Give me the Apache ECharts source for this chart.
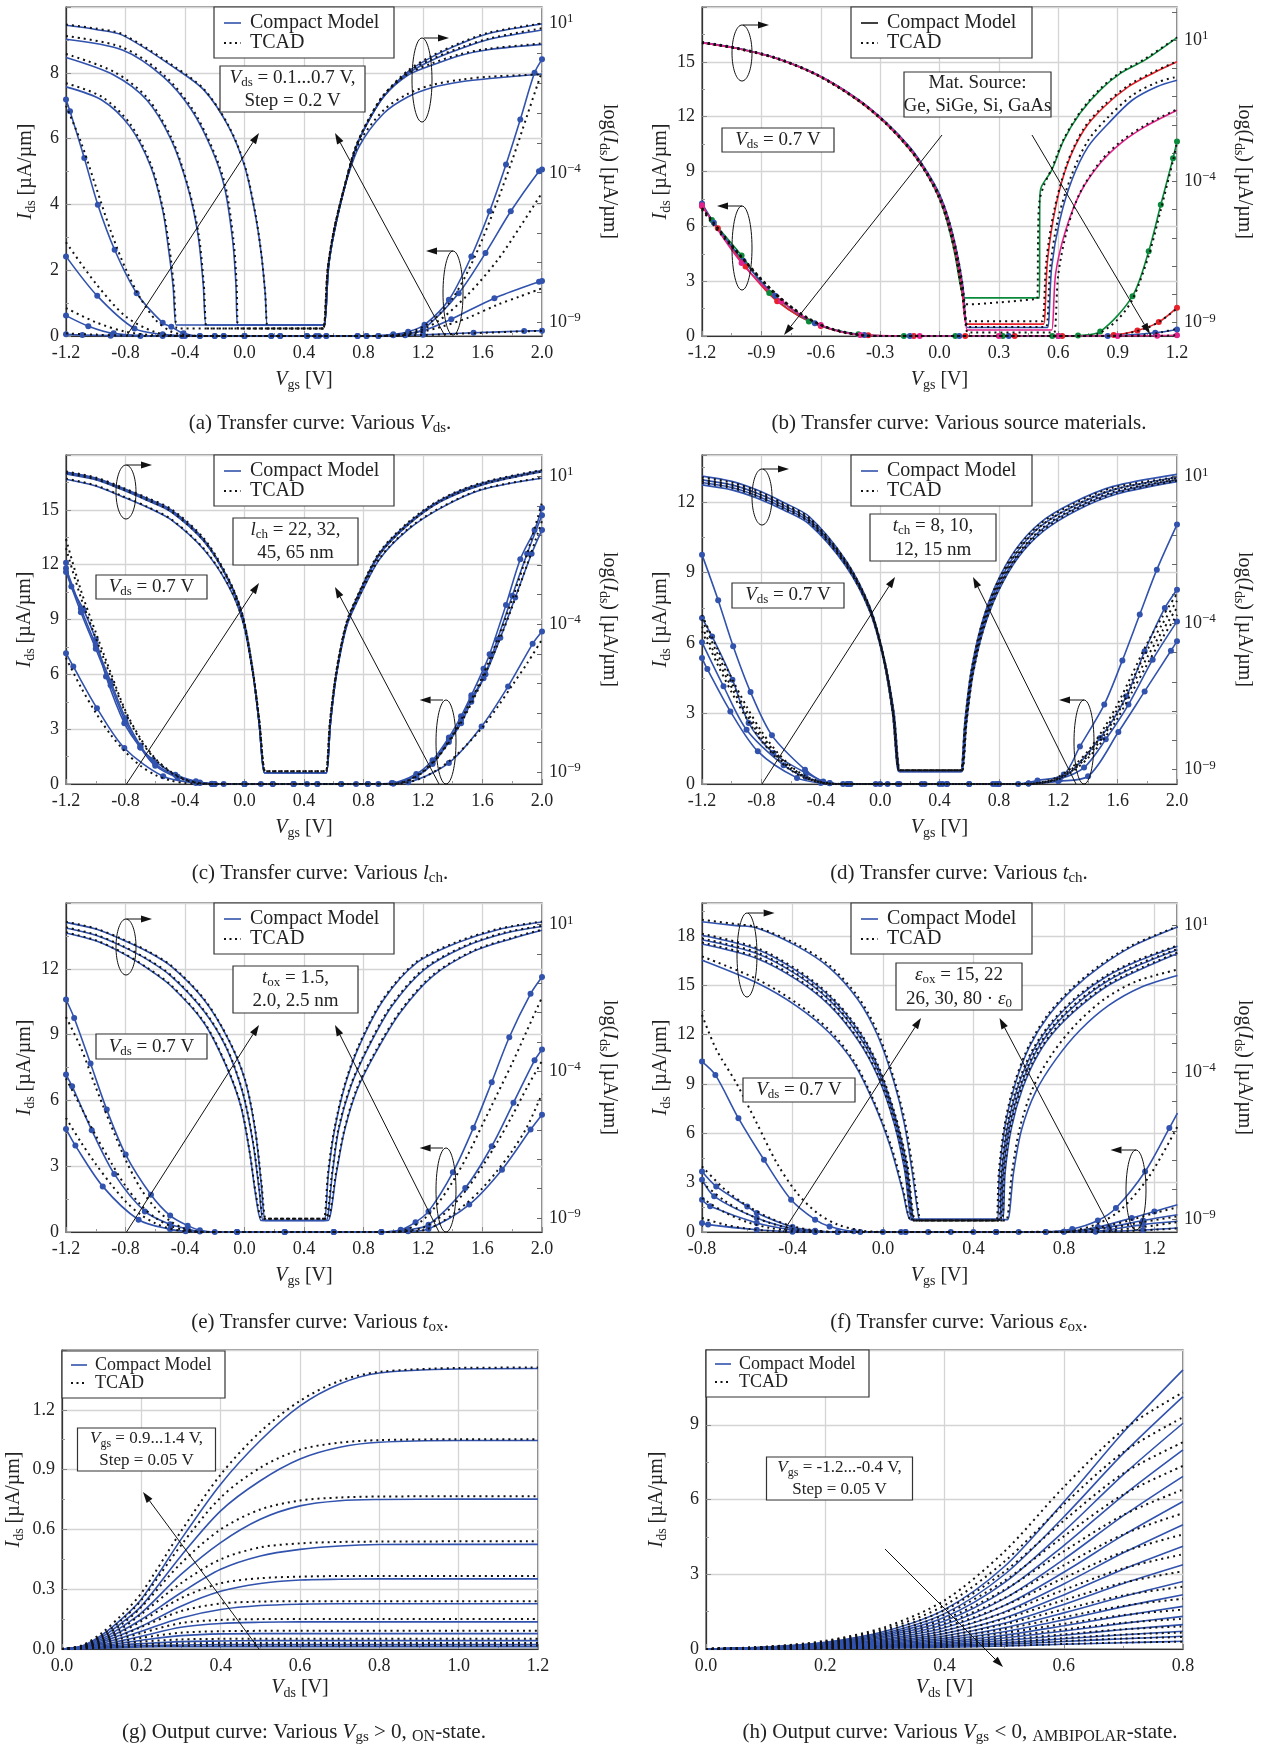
<!DOCTYPE html>
<html><head><meta charset="utf-8">
<script src="https://cdn.jsdelivr.net/npm/echarts@6/dist/echarts.min.js"></script>
<style>html,body{margin:0;padding:0;background:#fff;}#c{width:1270px;height:1746px;}</style>
</head><body><div id="c"></div>
<script>
// ================= DATA =================
// Panel (a): various Vds — log-axis curves [Vgs, log10(Ids)]
const aLogCM = [
 [[-1.2,-1.12],[-0.96,-1.56],[-0.77,-2.45],[-0.63,-3.79],[-0.55,-5.24],[-0.51,-6.57],[-0.48,-7.80],[-0.46,-9.08],[-0.44,-9.08],[0.52,-9.08],[0.537,-9.08],[0.565,-7.13],[0.606,-5.90],[0.674,-4.46],[0.77,-3.12],[0.935,-2.01],[1.10,-1.45],[1.264,-1.14],[1.456,-0.95],[1.648,-0.84],[2.0,-0.69]],
 [[-1.2,-0.14],[-0.876,-0.73],[-0.657,-1.56],[-0.492,-2.90],[-0.382,-4.46],[-0.314,-6.02],[-0.278,-7.69],[-0.259,-9.08],[-0.24,-9.08],[0.52,-9.08],[0.537,-9.08],[0.565,-7.13],[0.606,-5.90],[0.674,-4.46],[0.743,-3.23],[0.825,-2.34],[0.935,-1.45],[1.10,-0.73],[1.264,-0.39],[1.456,-0.06],[1.648,0.13],[2.0,0.30]],
 [[-1.2,0.47],[-0.821,0.11],[-0.547,-0.78],[-0.355,-1.9],[-0.218,-3.23],[-0.135,-4.46],[-0.080,-6.24],[-0.058,-7.69],[-0.047,-9.08],[-0.03,-9.08],[0.52,-9.08],[0.537,-9.08],[0.565,-7.13],[0.606,-5.90],[0.674,-4.46],[0.743,-3.23],[0.825,-2.34],[0.935,-1.45],[1.10,-0.67],[1.264,-0.22],[1.456,0.16],[1.648,0.47],[2.0,0.78]],
 [[-1.2,0.94],[-1.0,0.80],[-0.821,0.61],[-0.465,-0.50],[-0.272,-1.23],[-0.107,-2.45],[0.002,-3.79],[0.071,-5.35],[0.112,-6.68],[0.139,-8.02],[0.153,-9.08],[0.17,-9.08],[0.52,-9.08],[0.537,-9.08],[0.565,-7.13],[0.606,-5.90],[0.674,-4.46],[0.743,-3.23],[0.825,-2.34],[0.935,-1.45],[1.10,-0.61],[1.264,-0.11],[1.456,0.33],[1.648,0.67],[2.0,0.98]]
];
const aLogTC = [
 [[-1.2,-1.0],[-0.96,-1.45],[-0.77,-2.35],[-0.63,-3.70],[-0.55,-5.15],[-0.505,-6.5],[-0.475,-7.8],[-0.455,-9.2],[-0.435,-9.2],[0.51,-9.2],[0.53,-9.2],[0.56,-7.2],[0.60,-5.95],[0.67,-4.5],[0.77,-3.0],[0.935,-1.9],[1.10,-1.35],[1.264,-1.05],[1.456,-0.88],[1.648,-0.78],[2.0,-0.70]],
 [[-1.2,-0.02],[-0.876,-0.62],[-0.657,-1.47],[-0.492,-2.82],[-0.382,-4.40],[-0.31,-6.0],[-0.274,-7.7],[-0.255,-9.2],[-0.235,-9.2],[0.51,-9.2],[0.53,-9.2],[0.56,-7.2],[0.60,-5.95],[0.67,-4.5],[0.743,-3.2],[0.825,-2.3],[0.935,-1.4],[1.10,-0.68],[1.264,-0.33],[1.456,-0.02],[1.648,0.16],[2.0,0.33]],
 [[-1.2,0.58],[-0.821,0.2],[-0.547,-0.7],[-0.355,-1.82],[-0.218,-3.15],[-0.13,-4.4],[-0.075,-6.2],[-0.053,-7.7],[-0.043,-9.2],[-0.025,-9.2],[0.51,-9.2],[0.53,-9.2],[0.56,-7.2],[0.60,-5.95],[0.67,-4.5],[0.743,-3.2],[0.825,-2.3],[0.935,-1.4],[1.10,-0.62],[1.264,-0.18],[1.456,0.2],[1.648,0.5],[2.0,0.84]],
 [[-1.2,0.96],[-1.0,0.83],[-0.821,0.64],[-0.465,-0.46],[-0.272,-1.2],[-0.107,-2.42],[0.002,-3.75],[0.071,-5.3],[0.112,-6.65],[0.139,-8.0],[0.156,-9.2],[0.175,-9.2],[0.51,-9.2],[0.53,-9.2],[0.56,-7.2],[0.60,-5.95],[0.67,-4.5],[0.743,-3.2],[0.825,-2.3],[0.935,-1.4],[1.10,-0.57],[1.264,-0.07],[1.456,0.36],[1.648,0.7],[2.0,1.0]]
];
// Panel (a) linear-axis curves [Vgs, Ids µA/µm]
const aLinCM = [
 [[-1.2,0.05],[-1.09,0.03],[-0.9,0.01],[-0.7,0],[-0.42,0],[-0.2,0],[0.0,0],[0.24,0],[0.48,0],[0.76,0],[0.9,0],[1.08,0.02],[1.2,0.04],[1.54,0.10],[1.88,0.15],[2.0,0.16]],
 [[-1.2,0.62],[-1.05,0.3],[-0.88,0.08],[-0.55,0],[-0.4,0],[-0.14,0],[0.18,0],[0.42,0],[0.55,0],[0.82,0],[1.0,0.02],[1.2,0.16],[1.39,0.51],[1.68,1.15],[1.98,1.65],[2.0,1.67]],
 [[-1.2,2.42],[-0.99,1.22],[-0.74,0.23],[-0.55,0.05],[-0.3,0],[-0.2,0],[0.0,0],[0.24,0],[0.5,0],[0.76,0],[0.9,0],[1.1,0.08],[1.2,0.2],[1.44,1.3],[1.62,2.52],[1.79,3.79],[1.98,5.01],[2.0,5.06]],
 [[-1.2,7.19],[-1.173,6.83],[-1.077,5.41],[-0.986,3.99],[-0.873,2.62],[-0.725,1.30],[-0.55,0.4],[-0.492,0.28],[-0.41,0.08],[-0.3,0.0],[-0.14,0],[0.0,0],[0.18,0],[0.42,0],[0.55,0],[0.82,0],[1.0,0.05],[1.10,0.13],[1.21,0.34],[1.374,1.10],[1.525,2.42],[1.648,3.79],[1.758,5.21],[1.854,6.58],[1.95,8.0],[2.0,8.41]]
];
const aLinTC = [
 [[-1.2,0.08],[-1.0,0.04],[-0.8,0.01],[-0.6,0],[0.9,0],[1.2,0.03],[1.5,0.08],[1.8,0.13],[2.0,0.16]],
 [[-1.2,0.85],[-1.0,0.42],[-0.8,0.13],[-0.6,0.02],[-0.4,0],[0.9,0],[1.1,0.04],[1.3,0.25],[1.5,0.55],[1.7,0.95],[1.85,1.2],[2.0,1.45]],
 [[-1.2,2.85],[-1.0,1.6],[-0.8,0.6],[-0.6,0.12],[-0.4,0],[0.9,0],[1.1,0.05],[1.3,0.45],[1.5,1.25],[1.7,2.3],[1.85,3.3],[2.0,4.35]],
 [[-1.2,7.0],[-1.1,5.9],[-1.0,4.55],[-0.9,3.2],[-0.8,2.05],[-0.7,1.15],[-0.6,0.5],[-0.5,0.15],[-0.4,0.03],[-0.3,0],[0.9,0],[1.1,0.1],[1.2,0.28],[1.3,0.62],[1.4,1.15],[1.5,1.95],[1.6,2.95],[1.7,4.1],[1.8,5.35],[1.9,6.7],[2.0,8.05]]
];

// Panel (b): source materials Ge, SiGe, Si, GaAs (green, red, blue, magenta)
const bColors = ['#0a8a3a','#e8202a','#2f52b0','#e0228a'];
const bLogCM = [
 [[-1.2,0.91],[-1.026,0.71],[-0.822,0.35],[-0.618,-0.24],[-0.414,-1.12],[-0.271,-1.95],[-0.148,-2.89],[-0.066,-3.72],[-0.005,-4.54],[0.036,-5.37],[0.077,-6.55],[0.107,-7.73],[0.125,-8.12],[0.14,-8.12],[0.49,-8.12],[0.505,-8.12],[0.507,-4.6],[0.515,-4.19],[0.567,-3.6],[0.628,-2.54],[0.710,-1.59],[0.812,-0.77],[0.914,-0.18],[1.037,0.29],[1.2,1.09]],
 [[-1.2,0.91],[-1.026,0.71],[-0.822,0.35],[-0.618,-0.24],[-0.414,-1.12],[-0.271,-1.95],[-0.148,-2.88],[-0.066,-3.70],[-0.005,-4.50],[0.04,-5.35],[0.082,-6.55],[0.112,-7.75],[0.135,-9.05],[0.15,-9.05],[0.51,-9.05],[0.526,-9.05],[0.546,-6.78],[0.587,-4.9],[0.648,-3.36],[0.730,-2.18],[0.832,-1.36],[0.955,-0.65],[1.077,-0.18],[1.2,0.23]],
 [[-1.2,0.92],[-1.026,0.72],[-0.822,0.36],[-0.618,-0.22],[-0.414,-1.08],[-0.271,-1.9],[-0.148,-2.8],[-0.066,-3.62],[0.0,-4.45],[0.045,-5.3],[0.088,-6.5],[0.118,-7.7],[0.14,-9.17],[0.155,-9.17],[0.53,-9.17],[0.546,-9.17],[0.567,-7.02],[0.608,-5.37],[0.669,-3.95],[0.751,-2.77],[0.853,-1.95],[0.975,-1.12],[1.098,-0.65],[1.2,-0.42]],
 [[-1.2,0.91],[-1.026,0.71],[-0.822,0.35],[-0.618,-0.23],[-0.414,-1.1],[-0.271,-1.93],[-0.148,-2.85],[-0.066,-3.68],[-0.003,-4.5],[0.042,-5.35],[0.085,-6.55],[0.115,-7.75],[0.14,-9.26],[0.155,-9.26],[0.55,-9.26],[0.567,-9.26],[0.587,-7.25],[0.638,-5.72],[0.710,-4.42],[0.812,-3.36],[0.914,-2.66],[1.037,-2.07],[1.2,-1.48]]
];
const bLogTC = [
 [[-1.2,0.93],[-1.026,0.73],[-0.822,0.37],[-0.618,-0.22],[-0.414,-1.1],[-0.271,-1.93],[-0.148,-2.87],[-0.066,-3.7],[-0.005,-4.52],[0.036,-5.35],[0.077,-6.5],[0.107,-7.7],[0.13,-8.35],[0.145,-8.35],[0.3,-8.28],[0.48,-8.17],[0.495,-8.15],[0.498,-6.0],[0.505,-4.7],[0.53,-4.1],[0.567,-3.55],[0.628,-2.5],[0.71,-1.55],[0.812,-0.72],[0.914,-0.14],[1.037,0.33],[1.2,1.1]],
 [[-1.2,0.9],[-1.026,0.7],[-0.822,0.34],[-0.618,-0.25],[-0.414,-1.13],[-0.271,-1.96],[-0.148,-2.9],[-0.066,-3.73],[-0.005,-4.55],[0.04,-5.4],[0.082,-6.58],[0.112,-7.8],[0.136,-8.95],[0.15,-8.95],[0.505,-8.95],[0.52,-8.95],[0.54,-6.8],[0.58,-5.0],[0.648,-3.3],[0.73,-2.12],[0.832,-1.3],[0.955,-0.6],[1.077,-0.14],[1.2,0.25]],
 [[-1.2,0.92],[-1.026,0.72],[-0.822,0.36],[-0.618,-0.23],[-0.414,-1.1],[-0.271,-1.92],[-0.148,-2.83],[-0.066,-3.65],[0.0,-4.48],[0.045,-5.33],[0.088,-6.53],[0.118,-7.72],[0.142,-9.15],[0.157,-9.15],[0.525,-9.15],[0.54,-9.15],[0.56,-7.0],[0.6,-5.3],[0.669,-3.75],[0.751,-2.55],[0.853,-1.72],[0.975,-0.95],[1.098,-0.5],[1.2,-0.3]],
 [[-1.2,0.9],[-1.026,0.7],[-0.822,0.34],[-0.618,-0.24],[-0.414,-1.12],[-0.271,-1.95],[-0.148,-2.87],[-0.066,-3.7],[-0.003,-4.52],[0.042,-5.37],[0.085,-6.57],[0.115,-7.77],[0.142,-9.35],[0.157,-9.35],[0.565,-9.35],[0.58,-9.35],[0.6,-7.3],[0.645,-5.7],[0.71,-4.4],[0.812,-3.3],[0.914,-2.6],[1.037,-2.02],[1.2,-1.45]]
];
const bLinCM = [
 [[-1.2,7.2],[-1.15,6.35],[-1.0,4.4],[-0.86,2.35],[-0.66,0.8],[-0.41,0.1],[-0.18,0],[0.08,0],[0.32,0],[0.57,0],[0.7,0.03],[0.812,0.24],[0.975,2.18],[1.057,4.64],[1.118,7.18],[1.18,9.73],[1.2,10.64]],
 [[-1.2,7.1],[-1.12,5.9],[-0.98,3.8],[-0.82,1.9],[-0.6,0.55],[-0.36,0.04],[-0.13,0],[0.13,0],[0.38,0],[0.62,0],[0.88,0.05],[1.0,0.3],[1.108,0.76],[1.2,1.55]],
 [[-1.2,7.25],[-1.14,6.2],[-0.99,4.1],[-0.83,2.2],[-0.63,0.7],[-0.38,0.05],[-0.15,0],[0.1,0],[0.35,0],[0.6,0],[0.85,0],[1.09,0.18],[1.2,0.36]],
 [[-1.2,7.15],[-1.0,4.0],[-0.8,1.9],[-0.6,0.6],[-0.4,0.06],[-0.1,0],[0.3,0],[0.6,0],[0.9,0],[1.1,0.02],[1.2,0.04]]
];
const bLinTC = [
 [[-1.2,6.9],[-1.1,5.5],[-1.0,4.3],[-0.9,3.1],[-0.8,2.05],[-0.7,1.2],[-0.6,0.6],[-0.5,0.22],[-0.4,0.05],[-0.3,0],[0.7,0],[0.8,0.12],[0.9,0.9],[0.975,2.0],[1.057,4.4],[1.118,6.9],[1.18,9.6],[1.2,10.6]],
 [[-1.2,6.95],[-1.0,4.3],[-0.8,2.0],[-0.6,0.6],[-0.4,0.05],[-0.3,0],[0.85,0],[0.95,0.15],[1.05,0.45],[1.12,0.85],[1.2,1.5]],
 [[-1.2,7.0],[-1.0,4.35],[-0.8,2.05],[-0.6,0.62],[-0.4,0.06],[-0.3,0],[0.95,0],[1.05,0.08],[1.12,0.2],[1.2,0.4]],
 [[-1.2,7.0],[-1.0,4.3],[-0.8,2.0],[-0.6,0.6],[-0.4,0.05],[-0.3,0],[1.1,0],[1.2,0.05]]
];

// Panel (c): various lch
const cLogCM = [
 [[-1.2,1.15],[-1.0,0.95],[-0.821,0.61],[-0.65,0.25],[-0.492,-0.13],[-0.272,-1.14],[-0.108,-2.49],[-0.012,-3.74],[0.057,-5.65],[0.098,-7.34],[0.134,-9.03],[0.15,-9.03],[0.535,-9.03],[0.551,-9.03],[0.578,-7.34],[0.619,-5.65],[0.688,-3.96],[0.770,-2.95],[0.908,-1.59],[1.10,-0.58],[1.319,0.21],[1.594,0.77],[2.0,1.20]],
 [[-1.2,1.12],[-1.0,0.92],[-0.821,0.58],[-0.65,0.21],[-0.492,-0.17],[-0.272,-1.17],[-0.108,-2.5],[-0.012,-3.75],[0.057,-5.65],[0.098,-7.34],[0.134,-9.03],[0.15,-9.03],[0.535,-9.03],[0.551,-9.03],[0.578,-7.34],[0.619,-5.65],[0.688,-3.98],[0.770,-2.97],[0.908,-1.62],[1.10,-0.61],[1.319,0.18],[1.594,0.74],[2.0,1.18]],
 [[-1.2,1.09],[-1.0,0.89],[-0.821,0.55],[-0.65,0.18],[-0.492,-0.2],[-0.272,-1.2],[-0.108,-2.52],[-0.012,-3.76],[0.057,-5.66],[0.098,-7.34],[0.134,-9.03],[0.15,-9.03],[0.535,-9.03],[0.551,-9.03],[0.578,-7.34],[0.619,-5.66],[0.688,-4.0],[0.770,-3.0],[0.908,-1.65],[1.10,-0.64],[1.319,0.15],[1.594,0.71],[2.0,1.16]],
 [[-1.2,0.91],[-1.0,0.68],[-0.821,0.32],[-0.65,-0.05],[-0.492,-0.47],[-0.272,-1.48],[-0.108,-2.7],[-0.012,-3.9],[0.057,-5.7],[0.098,-7.34],[0.134,-9.03],[0.15,-9.03],[0.535,-9.03],[0.551,-9.03],[0.578,-7.34],[0.619,-5.7],[0.688,-4.05],[0.770,-3.1],[0.908,-1.8],[1.10,-0.80],[1.319,-0.07],[1.594,0.55],[2.0,0.94]]
];
const cLogTC = [
 [[-1.2,1.17],[-1.0,0.97],[-0.821,0.63],[-0.65,0.27],[-0.492,-0.1],[-0.272,-1.1],[-0.108,-2.45],[-0.012,-3.7],[0.057,-5.6],[0.1,-7.3],[0.138,-8.98],[0.155,-8.98],[0.532,-8.98],[0.548,-8.98],[0.575,-7.3],[0.617,-5.6],[0.686,-3.93],[0.770,-2.92],[0.908,-1.56],[1.10,-0.55],[1.319,0.23],[1.594,0.79],[2.0,1.22]],
 [[-1.2,1.11],[-1.0,0.91],[-0.821,0.57],[-0.65,0.2],[-0.492,-0.18],[-0.272,-1.18],[-0.108,-2.5],[-0.012,-3.74],[0.057,-5.63],[0.1,-7.3],[0.138,-8.98],[0.155,-8.98],[0.532,-8.98],[0.548,-8.98],[0.575,-7.3],[0.617,-5.63],[0.686,-3.97],[0.770,-2.97],[0.908,-1.63],[1.10,-0.62],[1.319,0.17],[1.594,0.73],[2.0,1.17]],
 [[-1.2,0.93],[-1.0,0.7],[-0.821,0.34],[-0.65,-0.03],[-0.492,-0.45],[-0.272,-1.45],[-0.108,-2.67],[-0.012,-3.87],[0.057,-5.68],[0.1,-7.3],[0.138,-8.98],[0.155,-8.98],[0.532,-8.98],[0.548,-8.98],[0.575,-7.3],[0.617,-5.68],[0.686,-4.02],[0.770,-3.07],[0.908,-1.77],[1.10,-0.77],[1.319,-0.05],[1.594,0.57],[2.0,0.96]]
];
const cLinCM = [
 [[-1.2,12.1],[-1.164,10.8],[-1.082,9.53],[-1.0,7.9],[-0.931,5.88],[-0.808,3.33],[-0.7,2.0],[-0.616,1.33],[-0.465,0.51],[-0.327,0.15],[-0.22,0.02],[-0.14,0],[0.0,0],[0.19,0],[0.33,0],[0.49,0],[0.65,0],[0.83,0],[0.99,0.05],[1.155,0.55],[1.264,1.3],[1.374,2.55],[1.456,3.7],[1.525,4.85],[1.607,6.3],[1.648,7.1],[1.758,9.8],[1.854,12.3],[1.95,13.9],[2.0,15.1]],
 [[-1.2,11.8],[-1.1,9.6],[-1.0,7.6],[-0.9,5.6],[-0.8,3.6],[-0.7,2.1],[-0.6,1.1],[-0.45,0.4],[-0.3,0.08],[-0.22,0],[0.0,0],[0.11,0],[0.33,0],[0.42,0],[0.75,0],[1.0,0.03],[1.155,0.45],[1.264,1.15],[1.374,2.42],[1.456,3.5],[1.525,4.7],[1.607,5.79],[1.7,7.9],[1.8,10.3],[1.9,12.6],[2.0,14.7]],
 [[-1.2,11.6],[-1.1,9.4],[-1.0,7.4],[-0.9,5.4],[-0.8,3.4],[-0.7,2.0],[-0.6,1.0],[-0.45,0.35],[-0.3,0.06],[-0.2,0],[0.0,0],[0.19,0],[0.49,0],[0.83,0],[1.0,0.03],[1.155,0.42],[1.264,1.1],[1.374,2.3],[1.456,3.33],[1.525,4.5],[1.62,6.0],[1.72,8.0],[1.82,10.2],[1.93,12.6],[2.0,13.9]],
 [[-1.2,7.16],[-1.151,6.43],[-0.992,4.15],[-0.808,1.97],[-0.547,0.42],[-0.327,0.05],[-0.2,0],[0.0,0],[0.33,0],[0.65,0],[0.9,0],[1.1,0.1],[1.374,1.15],[1.594,3.15],[1.772,5.34],[1.937,7.67],[2.0,8.34]]
];
const cLinTC = [
 [[-1.2,13.4],[-1.1,10.6],[-1.0,8.3],[-0.9,6.1],[-0.8,4.0],[-0.7,2.5],[-0.6,1.4],[-0.5,0.7],[-0.4,0.25],[-0.3,0.05],[-0.2,0],[1.0,0],[1.1,0.2],[1.2,0.7],[1.3,1.5],[1.4,2.7],[1.5,4.2],[1.6,5.9],[1.7,7.9],[1.8,10.1],[1.9,12.6],[2.0,15.4]],
 [[-1.2,12.9],[-1.1,10.2],[-1.0,8.0],[-0.9,5.9],[-0.8,3.9],[-0.7,2.4],[-0.6,1.35],[-0.5,0.65],[-0.4,0.22],[-0.3,0.04],[-0.2,0],[1.0,0],[1.1,0.18],[1.2,0.65],[1.3,1.45],[1.4,2.6],[1.5,4.0],[1.6,5.7],[1.7,7.6],[1.8,9.7],[1.9,12.0],[2.0,14.4]],
 [[-1.2,6.9],[-1.1,5.3],[-1.0,3.9],[-0.9,2.7],[-0.8,1.75],[-0.7,1.0],[-0.6,0.5],[-0.5,0.2],[-0.4,0.05],[-0.3,0],[1.0,0],[1.1,0.1],[1.2,0.35],[1.3,0.8],[1.4,1.4],[1.5,2.2],[1.6,3.1],[1.7,4.2],[1.8,5.4],[1.9,6.6],[2.0,7.9]]
];

// Panel (d): various tch
const dLogCM = [
 [[-1.2,1.02],[-1.0,0.84],[-0.832,0.55],[-0.65,0.12],[-0.478,-0.36],[-0.233,-1.84],[-0.070,-3.43],[0.025,-5.14],[0.094,-7.07],[0.134,-9.06],[0.15,-9.06],[0.527,-9.06],[0.543,-9.06],[0.570,-7.41],[0.611,-5.70],[0.679,-4.11],[0.774,-2.75],[0.911,-1.50],[1.074,-0.59],[1.292,0.09],[1.564,0.66],[2.0,1.08]],
 [[-1.2,0.89],[-1.0,0.72],[-0.832,0.44],[-0.65,0.02],[-0.478,-0.46],[-0.233,-1.92],[-0.070,-3.5],[0.025,-5.2],[0.09,-7.1],[0.13,-9.06],[0.146,-9.06],[0.531,-9.06],[0.547,-9.06],[0.574,-7.41],[0.616,-5.72],[0.684,-4.15],[0.78,-2.82],[0.918,-1.6],[1.08,-0.7],[1.3,-0.02],[1.57,0.55],[2.0,0.98]],
 [[-1.2,0.80],[-1.0,0.63],[-0.832,0.35],[-0.65,-0.06],[-0.478,-0.54],[-0.233,-1.98],[-0.070,-3.55],[0.025,-5.25],[0.087,-7.1],[0.127,-9.06],[0.143,-9.06],[0.534,-9.06],[0.55,-9.06],[0.578,-7.41],[0.62,-5.74],[0.69,-4.2],[0.786,-2.9],[0.925,-1.7],[1.09,-0.8],[1.31,-0.1],[1.58,0.46],[2.0,0.89]],
 [[-1.2,0.72],[-1.0,0.55],[-0.832,0.27],[-0.65,-0.14],[-0.478,-0.62],[-0.233,-2.04],[-0.070,-3.6],[0.025,-5.3],[0.084,-7.1],[0.124,-9.06],[0.14,-9.06],[0.537,-9.06],[0.553,-9.06],[0.582,-7.41],[0.625,-5.76],[0.695,-4.25],[0.792,-2.96],[0.93,-1.76],[1.1,-0.86],[1.32,-0.16],[1.59,0.4],[2.0,0.83]]
];
const dLogTC = [
 [[-1.2,0.98],[-1.0,0.8],[-0.832,0.52],[-0.65,0.08],[-0.478,-0.4],[-0.233,-1.86],[-0.070,-3.45],[0.025,-5.16],[0.092,-7.08],[0.133,-9.02],[0.149,-9.02],[0.529,-9.02],[0.545,-9.02],[0.572,-7.4],[0.613,-5.7],[0.68,-4.12],[0.776,-2.77],[0.913,-1.53],[1.076,-0.62],[1.294,0.05],[1.566,0.62],[2.0,0.98]],
 [[-1.2,0.9],[-1.0,0.73],[-0.832,0.45],[-0.65,0.03],[-0.478,-0.45],[-0.233,-1.9],[-0.070,-3.48],[0.025,-5.18],[0.089,-7.08],[0.13,-9.02],[0.146,-9.02],[0.532,-9.02],[0.548,-9.02],[0.575,-7.4],[0.617,-5.71],[0.685,-4.14],[0.781,-2.81],[0.919,-1.59],[1.082,-0.68],[1.3,-0.01],[1.57,0.56],[2.0,0.94]],
 [[-1.2,0.84],[-1.0,0.67],[-0.832,0.39],[-0.65,-0.03],[-0.478,-0.5],[-0.233,-1.95],[-0.070,-3.52],[0.025,-5.22],[0.087,-7.08],[0.128,-9.02],[0.144,-9.02],[0.535,-9.02],[0.551,-9.02],[0.579,-7.4],[0.621,-5.73],[0.69,-4.18],[0.786,-2.87],[0.925,-1.66],[1.09,-0.76],[1.31,-0.07],[1.58,0.5],[2.0,0.9]],
 [[-1.2,0.78],[-1.0,0.61],[-0.832,0.33],[-0.65,-0.09],[-0.478,-0.56],[-0.233,-2.0],[-0.070,-3.56],[0.025,-5.26],[0.085,-7.08],[0.126,-9.02],[0.142,-9.02],[0.538,-9.02],[0.554,-9.02],[0.582,-7.4],[0.625,-5.75],[0.695,-4.22],[0.792,-2.92],[0.93,-1.72],[1.1,-0.82],[1.32,-0.12],[1.59,0.44],[2.0,0.86]]
];
const dLinCM = [
 [[-1.2,9.76],[-1.091,7.82],[-0.99,5.86],[-0.873,3.91],[-0.729,2.07],[-0.506,0.61],[-0.383,0.11],[-0.25,0],[-0.2,0],[-0.03,0],[0.12,0],[0.28,0],[0.42,0],[0.6,0],[0.76,0],[0.93,0],[1.06,0.15],[1.237,0.40],[1.346,1.60],[1.51,3.38],[1.632,5.26],[1.749,7.21],[1.864,9.12],[2.0,11.04]],
 [[-1.2,7.06],[-1.132,6.28],[-0.995,4.44],[-0.886,2.60],[-0.72,1.32],[-0.5,0.47],[-0.34,0.03],[-0.22,0],[0.0,0],[0.3,0],[0.45,0],[0.6,0],[0.8,0],[1.0,0.02],[1.21,0.18],[1.482,1.96],[1.659,3.73],[1.782,5.65],[1.918,7.49],[2.0,8.27]],
 [[-1.2,6.03],[-1.055,4.16],[-0.9,2.31],[-0.65,0.8],[-0.5,0.28],[-0.34,0.04],[-0.2,0],[0.05,0],[0.4,0],[0.78,0],[1.0,0.02],[1.2,0.2],[1.374,0.7],[1.52,1.9],[1.673,3.38],[1.836,5.29],[2.0,6.92]],
 [[-1.2,5.36],[-1.164,4.89],[-1.009,3.09],[-0.824,1.39],[-0.56,0.26],[-0.4,0.04],[-0.22,0],[0.13,0],[0.45,0],[0.8,0],[1.0,0.02],[1.2,0.12],[1.401,0.33],[1.605,2.21],[1.782,3.94],[1.959,5.67],[2.0,6.07]]
];
const dLinTC = [
 [[-1.2,7.2],[-1.1,5.8],[-1.0,4.5],[-0.9,3.3],[-0.8,2.25],[-0.7,1.4],[-0.6,0.75],[-0.5,0.33],[-0.4,0.1],[-0.3,0.01],[-0.2,0],[1.0,0],[1.1,0.1],[1.2,0.3],[1.3,0.75],[1.4,1.4],[1.5,2.3],[1.6,3.4],[1.7,4.7],[1.8,6.0],[1.9,7.1],[2.0,8.1]],
 [[-1.2,7.0],[-1.1,5.6],[-1.0,4.3],[-0.9,3.1],[-0.8,2.1],[-0.7,1.3],[-0.6,0.7],[-0.5,0.3],[-0.4,0.08],[-0.3,0],[1.0,0],[1.1,0.08],[1.2,0.26],[1.3,0.68],[1.4,1.3],[1.5,2.15],[1.6,3.2],[1.7,4.45],[1.8,5.7],[1.9,6.8],[2.0,7.8]],
 [[-1.2,6.7],[-1.1,5.35],[-1.0,4.1],[-0.9,2.95],[-0.8,1.95],[-0.7,1.2],[-0.6,0.62],[-0.5,0.26],[-0.4,0.06],[-0.3,0],[1.0,0],[1.1,0.06],[1.2,0.22],[1.3,0.6],[1.4,1.2],[1.5,2.0],[1.6,3.0],[1.7,4.2],[1.8,5.4],[1.9,6.5],[2.0,7.5]],
 [[-1.2,6.5],[-1.1,5.15],[-1.0,3.9],[-0.9,2.8],[-0.8,1.85],[-0.7,1.12],[-0.6,0.58],[-0.5,0.24],[-0.4,0.05],[-0.3,0],[1.0,0],[1.1,0.05],[1.2,0.2],[1.3,0.55],[1.4,1.1],[1.5,1.85],[1.6,2.8],[1.7,3.95],[1.8,5.1],[1.9,6.2],[2.0,7.2]]
];

// Panel (e): various tox
const eLogCM = [
 [[-1.2,1.08],[-1.0,0.85],[-0.821,0.49],[-0.65,0.08],[-0.492,-0.42],[-0.272,-1.56],[-0.108,-2.92],[0.002,-4.28],[0.071,-5.99],[0.112,-7.81],[0.139,-9.09],[0.155,-9.09],[0.52,-9.09],[0.537,-9.09],[0.565,-7.44],[0.606,-5.99],[0.674,-4.51],[0.770,-3.15],[0.935,-1.56],[1.155,-0.31],[1.429,0.38],[1.703,0.83],[2.0,1.09]],
 [[-1.2,0.89],[-1.0,0.64],[-0.821,0.26],[-0.65,-0.2],[-0.492,-0.76],[-0.272,-1.95],[-0.122,-3.2],[-0.012,-4.74],[0.057,-6.44],[0.098,-8.03],[0.125,-9.09],[0.14,-9.09],[0.535,-9.09],[0.55,-9.09],[0.592,-7.44],[0.633,-5.99],[0.715,-4.51],[0.825,-3.26],[0.99,-1.78],[1.209,-0.53],[1.484,0.26],[1.758,0.72],[2.0,0.94]],
 [[-1.2,0.72],[-1.0,0.45],[-0.821,0.03],[-0.65,-0.5],[-0.492,-1.10],[-0.272,-2.35],[-0.122,-3.83],[-0.025,-5.19],[0.035,-6.78],[0.076,-8.26],[0.112,-9.09],[0.128,-9.09],[0.546,-9.09],[0.562,-9.09],[0.619,-7.44],[0.674,-5.99],[0.757,-4.63],[0.880,-3.38],[1.045,-2.01],[1.264,-0.76],[1.539,0.09],[1.813,0.55],[2.0,0.81]]
];
const eLogTC = [
 [[-1.2,1.1],[-1.0,0.87],[-0.821,0.51],[-0.65,0.1],[-0.492,-0.4],[-0.272,-1.53],[-0.108,-2.9],[0.002,-4.25],[0.071,-5.95],[0.114,-7.8],[0.142,-9.03],[0.158,-9.03],[0.518,-9.03],[0.534,-9.03],[0.562,-7.44],[0.603,-5.99],[0.671,-4.5],[0.767,-3.13],[0.932,-1.53],[1.152,-0.28],[1.426,0.41],[1.70,0.85],[2.0,1.11]],
 [[-1.2,0.91],[-1.0,0.66],[-0.821,0.28],[-0.65,-0.18],[-0.492,-0.73],[-0.272,-1.92],[-0.122,-3.17],[-0.012,-4.7],[0.057,-6.4],[0.1,-8.0],[0.128,-9.03],[0.144,-9.03],[0.532,-9.03],[0.547,-9.03],[0.589,-7.44],[0.63,-5.99],[0.712,-4.5],[0.822,-3.24],[0.987,-1.75],[1.206,-0.5],[1.481,0.28],[1.755,0.74],[2.0,0.96]],
 [[-1.2,0.74],[-1.0,0.47],[-0.821,0.05],[-0.65,-0.48],[-0.492,-1.07],[-0.272,-2.32],[-0.122,-3.8],[-0.025,-5.15],[0.035,-6.75],[0.078,-8.23],[0.115,-9.03],[0.131,-9.03],[0.543,-9.03],[0.559,-9.03],[0.616,-7.44],[0.671,-5.99],[0.754,-4.6],[0.877,-3.35],[1.042,-1.98],[1.261,-0.73],[1.536,0.11],[1.81,0.57],[2.0,0.83]]
];
const eLinCM = [
 [[-1.2,10.6],[-1.145,9.76],[-1.035,7.68],[-0.926,5.58],[-0.799,3.53],[-0.629,1.70],[-0.5,0.75],[-0.382,0.29],[-0.3,0.08],[-0.2,0],[-0.05,0],[0.27,0],[0.6,0],[0.92,0],[1.05,0.1],[1.15,0.45],[1.237,0.94],[1.401,2.72],[1.539,4.75],[1.662,6.83],[1.780,8.88],[1.923,10.86],[2.0,11.63]],
 [[-1.2,7.18],[-1.159,6.65],[-1.027,4.64],[-0.876,2.65],[-0.67,0.94],[-0.5,0.35],[-0.382,0.14],[-0.3,0.02],[-0.05,0],[0.27,0],[0.6,0],[0.92,0],[1.1,0.1],[1.237,0.33],[1.484,2.01],[1.662,3.91],[1.808,5.89],[1.95,7.83],[2.0,8.32]],
 [[-1.2,4.70],[-1.137,3.94],[-0.953,2.08],[-0.712,0.56],[-0.5,0.12],[-0.396,0.03],[-0.05,0],[0.27,0],[0.6,0],[0.92,0],[1.1,0.03],[1.237,0.14],[1.511,1.25],[1.731,2.84],[1.923,4.67],[2.0,5.35]]
];
const eLinTC = [
 [[-1.2,9.8],[-1.1,8.4],[-1.0,6.6],[-0.9,4.9],[-0.8,3.3],[-0.7,2.0],[-0.6,1.1],[-0.5,0.5],[-0.4,0.15],[-0.3,0.02],[-0.2,0],[1.0,0],[1.1,0.15],[1.2,0.55],[1.3,1.3],[1.4,2.3],[1.5,3.5],[1.6,4.9],[1.7,6.3],[1.8,7.7],[1.9,9.2],[2.0,10.7]],
 [[-1.2,7.0],[-1.1,5.7],[-1.0,4.4],[-0.9,3.2],[-0.8,2.1],[-0.7,1.25],[-0.6,0.65],[-0.5,0.28],[-0.4,0.08],[-0.3,0],[1.0,0],[1.1,0.06],[1.2,0.2],[1.3,0.6],[1.4,1.2],[1.5,2.0],[1.6,3.0],[1.7,4.1],[1.8,5.3],[1.9,6.6],[2.0,7.8]],
 [[-1.2,5.2],[-1.1,4.1],[-1.0,3.1],[-0.9,2.2],[-0.8,1.4],[-0.7,0.8],[-0.6,0.4],[-0.5,0.15],[-0.4,0.03],[-0.3,0],[1.0,0],[1.1,0.02],[1.2,0.08],[1.3,0.35],[1.4,0.8],[1.5,1.35],[1.6,2.0],[1.7,2.8],[1.8,3.7],[1.9,4.8],[2.0,6.3]]
];

// Panel (f): various eps_ox
const fLogCM = [
 [[-0.8,1.13],[-0.65,1.0],[-0.558,0.92],[-0.38,0.30],[-0.236,-0.44],[-0.111,-1.52],[-0.022,-2.77],[0.05,-4.36],[0.094,-5.73],[0.13,-7.43],[0.157,-8.91],[0.166,-9.02],[0.18,-9.02],[0.49,-9.02],[0.506,-9.02],[0.515,-7.43],[0.542,-5.73],[0.586,-4.36],[0.649,-3.11],[0.730,-2.09],[0.837,-1.18],[0.962,-0.39],[1.105,0.30],[1.302,0.95]],
 [[-0.8,0.67],[-0.558,0.19],[-0.38,-0.55],[-0.236,-1.41],[-0.111,-2.55],[-0.022,-3.80],[0.05,-5.39],[0.104,-7.09],[0.14,-9.02],[0.155,-9.02],[0.5,-9.02],[0.515,-9.02],[0.525,-7.43],[0.552,-5.8],[0.598,-4.45],[0.665,-3.25],[0.75,-2.3],[0.86,-1.45],[0.985,-0.75],[1.13,-0.2],[1.302,0.30]],
 [[-0.8,0.52],[-0.558,0.05],[-0.38,-0.68],[-0.236,-1.55],[-0.111,-2.7],[-0.022,-3.95],[0.05,-5.55],[0.1,-7.2],[0.135,-9.02],[0.15,-9.02],[0.507,-9.02],[0.522,-9.02],[0.532,-7.43],[0.56,-5.85],[0.608,-4.5],[0.675,-3.32],[0.76,-2.4],[0.87,-1.58],[0.995,-0.88],[1.14,-0.32],[1.302,0.18]],
 [[-0.8,0.37],[-0.558,-0.12],[-0.38,-0.85],[-0.236,-1.72],[-0.111,-2.9],[-0.022,-4.15],[0.05,-5.75],[0.095,-7.3],[0.13,-9.02],[0.145,-9.02],[0.515,-9.02],[0.53,-9.02],[0.54,-7.43],[0.568,-5.9],[0.617,-4.55],[0.685,-3.4],[0.77,-2.5],[0.88,-1.7],[1.005,-1.0],[1.15,-0.45],[1.302,0.05]],
 [[-0.8,-0.18],[-0.558,-0.95],[-0.38,-1.75],[-0.236,-2.66],[-0.129,-3.68],[-0.04,-5.05],[0.032,-6.52],[0.086,-8.0],[0.122,-9.02],[0.137,-9.02],[0.536,-9.02],[0.551,-9.02],[0.577,-7.43],[0.613,-5.95],[0.676,-4.65],[0.765,-3.55],[0.873,-2.55],[0.998,-1.72],[1.141,-1.1],[1.302,-0.70]]
];
const fLogTC = [
 [[-0.8,1.2],[-0.65,1.05],[-0.558,0.95],[-0.38,0.36],[-0.236,-0.36],[-0.111,-1.42],[-0.022,-2.65],[0.05,-4.25],[0.098,-5.7],[0.134,-7.4],[0.16,-8.9],[0.17,-9.05],[0.185,-9.05],[0.487,-9.05],[0.502,-9.05],[0.512,-7.43],[0.539,-5.73],[0.583,-4.33],[0.646,-3.08],[0.727,-2.05],[0.834,-1.14],[0.959,-0.35],[1.102,0.33],[1.302,0.97]],
 [[-0.8,0.72],[-0.558,0.24],[-0.38,-0.5],[-0.236,-1.36],[-0.111,-2.5],[-0.022,-3.75],[0.05,-5.34],[0.106,-7.05],[0.143,-9.05],[0.158,-9.05],[0.497,-9.05],[0.512,-9.05],[0.522,-7.43],[0.549,-5.78],[0.595,-4.42],[0.662,-3.22],[0.747,-2.27],[0.857,-1.42],[0.982,-0.72],[1.127,-0.17],[1.302,0.32]],
 [[-0.8,0.56],[-0.558,0.09],[-0.38,-0.64],[-0.236,-1.5],[-0.111,-2.65],[-0.022,-3.9],[0.05,-5.5],[0.102,-7.15],[0.138,-9.05],[0.153,-9.05],[0.504,-9.05],[0.519,-9.05],[0.529,-7.43],[0.557,-5.82],[0.605,-4.47],[0.672,-3.29],[0.757,-2.37],[0.867,-1.55],[0.992,-0.85],[1.137,-0.29],[1.302,0.2]],
 [[-0.8,0.42],[-0.558,-0.07],[-0.38,-0.8],[-0.236,-1.67],[-0.111,-2.85],[-0.022,-4.1],[0.05,-5.7],[0.097,-7.25],[0.133,-9.05],[0.148,-9.05],[0.512,-9.05],[0.527,-9.05],[0.537,-7.43],[0.565,-5.87],[0.614,-4.52],[0.682,-3.37],[0.767,-2.47],[0.877,-1.67],[1.002,-0.97],[1.147,-0.42],[1.302,0.08]],
 [[-0.8,-0.05],[-0.558,-0.82],[-0.38,-1.65],[-0.236,-2.57],[-0.129,-3.6],[-0.04,-4.98],[0.034,-6.45],[0.088,-7.95],[0.125,-9.05],[0.14,-9.05],[0.53,-9.05],[0.545,-9.05],[0.57,-7.43],[0.605,-5.9],[0.665,-4.5],[0.75,-3.35],[0.855,-2.35],[0.98,-1.5],[1.12,-0.9],[1.302,-0.5]]
];
const fLinCM = [
 [[-0.8,10.36],[-0.741,9.55],[-0.639,6.92],[-0.526,4.39],[-0.406,1.96],[-0.3,0.75],[-0.236,0.34],[-0.129,0.04],[0.0,0],[0.2,0],[0.5,0],[0.72,0],[0.837,0.18],[0.95,0.7],[1.030,1.46],[1.159,3.68],[1.266,6.32],[1.302,7.23]],
 [[-0.8,3.68],[-0.737,2.77],[-0.6,1.55],[-0.558,1.15],[-0.4,0.3],[-0.3,0.08],[-0.2,0],[0.1,0],[0.5,0],[0.8,0.02],[0.95,0.3],[1.1,0.85],[1.2,1.25],[1.302,1.66]],
 [[-0.8,3.18],[-0.746,2.17],[-0.558,0.85],[-0.4,0.2],[-0.3,0.04],[-0.2,0],[0.1,0],[0.5,0],[0.8,0.01],[1.0,0.3],[1.15,0.7],[1.302,1.05]],
 [[-0.8,1.96],[-0.764,1.56],[-0.558,0.55],[-0.4,0.12],[-0.3,0.02],[-0.1,0],[0.3,0],[0.72,0],[0.94,0.05],[1.15,0.45],[1.302,0.65]],
 [[-0.8,0.55],[-0.773,0.45],[-0.558,0.14],[-0.4,0.02],[-0.3,0],[0.08,0],[0.4,0],[0.6,0],[0.94,0.02],[1.15,0.12],[1.302,0.24]]
];
const fLinTC = [
 [[-0.8,13.2],[-0.737,11.1],[-0.648,9.05],[-0.558,6.62],[-0.469,4.19],[-0.38,2.37],[-0.29,1.15],[-0.2,0.45],[-0.1,0.1],[0.0,0],[0.8,0],[0.85,0.1],[0.95,0.5],[1.052,1.36],[1.177,3.38],[1.302,6.42]],
 [[-0.8,3.99],[-0.7,2.6],[-0.6,1.6],[-0.5,0.85],[-0.4,0.35],[-0.3,0.1],[-0.2,0],[0.8,0],[0.9,0.15],[1.0,0.4],[1.1,0.75],[1.2,1.15],[1.302,1.5]],
 [[-0.8,3.0],[-0.7,1.9],[-0.6,1.1],[-0.5,0.55],[-0.4,0.2],[-0.3,0.05],[-0.2,0],[0.8,0],[1.0,0.25],[1.15,0.6],[1.302,0.95]],
 [[-0.8,2.06],[-0.7,1.2],[-0.6,0.6],[-0.5,0.25],[-0.4,0.08],[-0.3,0],[0.9,0],[1.05,0.15],[1.2,0.4],[1.302,0.6]],
 [[-0.8,0.85],[-0.7,0.45],[-0.6,0.2],[-0.5,0.07],[-0.4,0.01],[-0.3,0],[1.0,0.02],[1.15,0.1],[1.302,0.22]]
];

// Panel (g): output curves, Vgs = 0.9 ... 1.4 V (top = 1.4 V)
const gVds = [0,0.05,0.1,0.15,0.2,0.3,0.4,0.5,0.6,0.7,0.8,1.0,1.2];
const gCM = [
 [0,0.015,0.07,0.15,0.25,0.55,0.827,1.046,1.22,1.33,1.385,1.405,1.407],
 [0,0.013,0.06,0.13,0.215,0.467,0.693,0.844,0.953,1.012,1.037,1.046,1.046],
 [0,0.012,0.05,0.11,0.181,0.374,0.534,0.651,0.718,0.744,0.75,0.752,0.752],
 [0,0.01,0.042,0.09,0.148,0.282,0.40,0.467,0.50,0.517,0.524,0.525,0.525],
 [0,0.008,0.034,0.072,0.114,0.215,0.29,0.329,0.346,0.35,0.352,0.352,0.352],
 [0,0.007,0.027,0.056,0.089,0.156,0.198,0.218,0.225,0.227,0.227,0.227,0.227],
 [0,0.006,0.021,0.042,0.064,0.109,0.128,0.134,0.136,0.136,0.136,0.136,0.136],
 [0,0.004,0.015,0.03,0.044,0.067,0.076,0.077,0.077,0.077,0.077,0.077,0.077],
 [0,0.003,0.011,0.02,0.027,0.037,0.040,0.042,0.042,0.042,0.042,0.042,0.042],
 [0,0.002,0.007,0.012,0.017,0.020,0.022,0.022,0.022,0.022,0.022,0.022,0.022],
 [0,0.001,0.004,0.007,0.010,0.012,0.012,0.012,0.012,0.012,0.012,0.012,0.012]
];
const gTC = [
 [0,0.018,0.08,0.17,0.28,0.59,0.875,1.09,1.245,1.345,1.39,1.41,1.412],
 [0,0.016,0.068,0.145,0.245,0.52,0.76,0.91,1.0,1.035,1.048,1.052,1.052],
 [0,0.014,0.058,0.123,0.21,0.43,0.6,0.7,0.745,0.76,0.765,0.766,0.766],
 [0,0.012,0.048,0.102,0.175,0.33,0.45,0.51,0.53,0.537,0.539,0.54,0.54],
 [0,0.01,0.04,0.085,0.14,0.255,0.33,0.355,0.363,0.366,0.366,0.366,0.366],
 [0,0.008,0.032,0.068,0.11,0.19,0.228,0.238,0.24,0.24,0.24,0.24,0.24],
 [0,0.007,0.026,0.052,0.08,0.13,0.146,0.15,0.151,0.151,0.151,0.151,0.151],
 [0,0.005,0.019,0.038,0.056,0.082,0.089,0.091,0.091,0.091,0.091,0.091,0.091],
 [0,0.004,0.014,0.027,0.037,0.048,0.051,0.052,0.052,0.052,0.052,0.052,0.052],
 [0,0.003,0.01,0.017,0.023,0.028,0.03,0.03,0.03,0.03,0.03,0.03,0.03],
 [0,0.002,0.006,0.01,0.013,0.016,0.017,0.017,0.017,0.017,0.017,0.017,0.017]
];

// Panel (h): output curves, Vgs = -1.2 ... -0.4 V (top = -1.2 V)
const hVds = [0,0.1,0.2,0.3,0.4,0.5,0.6,0.7,0.8];
const hCM = [
 [0,0.08,0.27,0.71,1.58,3.30,5.90,8.70,11.2],
 [0,0.07,0.25,0.64,1.42,2.98,5.30,7.85,10.13],
 [0,0.07,0.23,0.58,1.27,2.65,4.72,7.00,9.06],
 [0,0.06,0.21,0.52,1.12,2.33,4.15,6.17,7.99],
 [0,0.06,0.19,0.46,0.98,2.02,3.60,5.35,6.93],
 [0,0.05,0.17,0.40,0.85,1.74,3.08,4.57,5.92],
 [0,0.05,0.15,0.35,0.73,1.48,2.61,3.86,4.99],
 [0,0.04,0.13,0.30,0.62,1.24,2.17,3.20,4.12],
 [0,0.04,0.11,0.26,0.52,1.03,1.79,2.63,3.38],
 [0,0.03,0.10,0.22,0.43,0.85,1.45,2.11,2.71],
 [0,0.03,0.08,0.18,0.36,0.69,1.17,1.70,2.18],
 [0,0.02,0.07,0.15,0.29,0.55,0.93,1.34,1.71],
 [0,0.02,0.06,0.12,0.23,0.44,0.72,1.03,1.31],
 [0,0.02,0.05,0.10,0.18,0.34,0.55,0.78,0.98],
 [0,0.01,0.04,0.08,0.14,0.25,0.41,0.57,0.71],
 [0,0.01,0.03,0.06,0.11,0.19,0.30,0.41,0.51],
 [0,0.01,0.02,0.04,0.07,0.12,0.19,0.25,0.31]
];
const hTC = [
 [0,0.09,0.33,0.88,1.95,3.9,6.5,8.8,10.3],
 [0,0.08,0.30,0.80,1.75,3.5,5.8,7.9,9.3],
 [0,0.08,0.27,0.72,1.56,3.1,5.15,7.05,8.3],
 [0,0.07,0.24,0.64,1.38,2.73,4.52,6.2,7.35],
 [0,0.07,0.22,0.56,1.2,2.37,3.92,5.38,6.4],
 [0,0.06,0.19,0.49,1.04,2.04,3.36,4.6,5.45],
 [0,0.05,0.17,0.42,0.89,1.74,2.85,3.9,4.6],
 [0,0.05,0.15,0.36,0.75,1.46,2.37,3.24,3.8],
 [0,0.04,0.13,0.31,0.63,1.21,1.96,2.66,3.12],
 [0,0.04,0.11,0.26,0.52,0.99,1.59,2.15,2.5],
 [0,0.03,0.09,0.21,0.43,0.8,1.28,1.73,2.02],
 [0,0.03,0.08,0.17,0.34,0.64,1.01,1.36,1.58],
 [0,0.02,0.06,0.14,0.27,0.5,0.78,1.05,1.21],
 [0,0.02,0.05,0.11,0.21,0.38,0.59,0.79,0.91],
 [0,0.01,0.04,0.09,0.16,0.28,0.44,0.58,0.66],
 [0,0.01,0.03,0.07,0.12,0.21,0.32,0.42,0.48],
 [0,0.01,0.02,0.04,0.08,0.13,0.2,0.26,0.29]
];

// Tick label values
const logTickLabels = [-9,-4,1];

// ================= BUILD =================
const FONT = "'Liberation Serif','Times New Roman',serif";
const BLUE = '#3152ad';
const TXT = '#222';
function rich(sz){
  const s = Math.round(sz*0.7);
  return {
    n:{fontSize:sz,fontFamily:FONT,color:TXT,lineHeight:sz+4,verticalAlign:'middle'},
    i:{fontSize:sz,fontFamily:FONT,fontStyle:'italic',color:TXT,lineHeight:sz+4,verticalAlign:'middle'},
    s:{fontSize:s,fontFamily:FONT,color:TXT,lineHeight:s,verticalAlign:'bottom'},
    p:{fontSize:s,fontFamily:FONT,color:TXT,lineHeight:s,verticalAlign:'top'},
    sc:{fontSize:Math.round(sz*0.76),fontFamily:FONT,color:TXT,lineHeight:sz,verticalAlign:'bottom'}
  };
}
const fmt1 = v => (Math.abs(v)<1e-9?0:v).toFixed(1);
const fmt0 = v => String(Math.round(v));

const option = {animation:false, backgroundColor:'#fff', grid:[], xAxis:[], yAxis:[], series:[], graphic:{elements:[]}};
const G = option.graphic.elements;

function addGrid(l,t,w,h){
  option.grid.push({left:l,top:t,width:w,height:h,show:true,borderColor:'#333',borderWidth:1.2,backgroundColor:'transparent'});
  return option.grid.length-1;
}
function addX(gi,min,max,interval,name,gap,showMax){
  option.xAxis.push({type:'value',gridIndex:gi,min,max,interval,
    axisLine:{show:true,onZero:false,lineStyle:{color:'#333',width:1.2}},
    axisTick:{show:true,inside:true,length:5,lineStyle:{color:'#888'}},
    minorTick:{show:true,splitNumber:2,length:3,lineStyle:{color:'#999'}},
    splitLine:{show:true,lineStyle:{color:'#d4d4d4',width:1.3}},
    axisLabel:{margin:8,fontSize:18,fontFamily:FONT,color:TXT,formatter:fmt1,showMaxLabel:showMax,showMinLabel:true},
    name,nameLocation:'middle',nameGap:gap,nameTextStyle:{rich:rich(20)}});
  return option.xAxis.length-1;
}
function addYL(gi,max,interval,fmt,gap){
  option.yAxis.push({type:'value',gridIndex:gi,position:'left',min:0,max,interval,
    axisLine:{show:true,onZero:false,lineStyle:{color:'#333',width:1.2}},
    axisTick:{show:true,inside:true,length:5,lineStyle:{color:'#888'}},
    minorTick:{show:true,splitNumber:2,length:3,lineStyle:{color:'#999'}},
    splitLine:{show:true,lineStyle:{color:'#d4d4d4',width:1.3}},
    axisLabel:{margin:7,fontSize:18,fontFamily:FONT,color:TXT,formatter:fmt,showMaxLabel:false},
    name:'{i|I}{s|ds}{n| [µA/µm]}',nameLocation:'middle',nameRotate:90,nameGap:gap,nameTextStyle:{rich:rich(20)}});
  return option.yAxis.length-1;
}
function addYR(gi,min,max){
  const ticks=[]; for(let k=Math.ceil(min);k<=Math.floor(max);k++) ticks.push(k);
  option.yAxis.push({type:'value',gridIndex:gi,position:'right',min,max,
    axisLine:{show:false,onZero:false},
    axisTick:{show:true,inside:true,length:5,customValues:ticks,lineStyle:{color:'#666'}},
    splitLine:{show:false},
    axisLabel:{margin:7,customValues:logTickLabels,
      formatter:v=>'{b|10}{p|'+(v<0?'−':'')+Math.abs(v)+'}',
      rich:{b:{fontSize:18,fontFamily:FONT,color:TXT,lineHeight:22,verticalAlign:'middle'},
            p:{fontSize:13,fontFamily:FONT,color:TXT,lineHeight:13,verticalAlign:'top'}}},
    name:'{n|log(}{i|I}{s|ds}{n|) [µA/µm]}',nameLocation:'middle',nameRotate:-90,nameGap:55,nameTextStyle:{rich:rich(20)}});
  return option.yAxis.length-1;
}
function line(xi,yi,data,color,kind){
  const dot = kind==='tc', sym = kind==='sym';
  option.series.push({type:'line',xAxisIndex:xi,yAxisIndex:yi,data,smooth:0.3,
    showSymbol:sym,showAllSymbol:true,symbol:'circle',symbolSize:6,
    itemStyle:{color},lineStyle:{color:dot?'#111':color,width:dot?2:1.6,type:dot?[2,4]:'solid'},
    silent:true,z:dot?4:3});
}

// --- decorations
function rect(x1,y1,x2,y2){ G.push({type:'rect',z:60,shape:{x:x1,y:y1,width:x2-x1,height:y2-y1},style:{fill:'#fff',stroke:'#333',lineWidth:1.2}}); }
function text(x,y,t,sz,align){
  G.push({type:'text',z:61,x,y,style:{text:t,rich:rich(sz),fontSize:sz,fontFamily:FONT,fill:TXT,
    align:align||'center',verticalAlign:'middle',textAlign:align||'center',textVerticalAlign:'middle'}});
}
function legend(x1,y1,x2,y2,color,sz,o){
  rect(x1,y1,x2,y2);
  G.push({type:'line',z:61,shape:{x1:x1+o[0],y1:y1+o[2],x2:x1+o[1],y2:y1+o[2]},style:{stroke:color,lineWidth:1.6}});
  G.push({type:'line',z:61,shape:{x1:x1+o[0],y1:y1+o[3],x2:x1+o[1],y2:y1+o[3]},style:{stroke:'#111',lineWidth:2,lineDash:[2,3.5]}});
  text(x1+o[4],y1+o[2],'{n|Compact Model}',sz,'left');
  text(x1+o[4],y1+o[3],'{n|TCAD}',sz,'left');
}
function box(x1,y1,x2,y2,lines,ys,sz){
  rect(x1,y1,x2,y2);
  lines.forEach((t,k)=>text((x1+x2)/2,ys[k],t,sz));
}
function arrow(x1,y1,x2,y2){
  const a=Math.atan2(y2-y1,x2-x1),L=11,W=3.6;
  const bx=x2-L*Math.cos(a),by=y2-L*Math.sin(a),px=-Math.sin(a)*W,py=Math.cos(a)*W;
  G.push({type:'line',z:55,shape:{x1,y1,x2:bx,y2:by},style:{stroke:'#111',lineWidth:1}});
  G.push({type:'polygon',z:55,shape:{points:[[x2,y2],[bx+px,by+py],[bx-px,by-py]]},style:{fill:'#111'}});
}
function ell(cx,cy,rx,ry){ G.push({type:'ellipse',z:55,shape:{cx,cy,rx,ry},style:{fill:'none',stroke:'#111',lineWidth:1}}); }

// --- transfer panels a–f
const OL=[10,27,16,36,36];
const VDS07 = '{i|V}{s|ds}{n| = 0.7 V}';
const panels = [
 {g:[66,7,476,329], x:[-1.2,2.0,0.4,true], yl:[10,2], yr:[-9.45,1.55], ygap:28,
  logCM:aLogCM, logTC:aLogTC, linCM:aLinCM, linTC:aLinTC, colors:null},
 {g:[702,7,475,329], x:[-1.2,1.2,0.3,true], yl:[18,3], yr:[-9.47,2.17], ygap:29,
  logCM:bLogCM, logTC:bLogTC, linCM:bLinCM, linTC:bLinTC, colors:bColors},
 {g:[66,455,476,329], x:[-1.2,2.0,0.4,true], yl:[18,3], yr:[-9.41,1.73], ygap:28,
  logCM:cLogCM, logTC:cLogTC, linCM:cLinCM, linTC:cLinTC, colors:null},
 {g:[702,455,475,329], x:[-1.2,2.0,0.4,true], yl:[14,3], yr:[-9.49,1.74], ygap:29,
  logCM:dLogCM, logTC:dLogTC, linCM:dLinCM, linTC:dLinTC, colors:null},
 {g:[66,903,476,329], x:[-1.2,2.0,0.4,true], yl:[15,3], yr:[-9.48,1.74], ygap:28,
  logCM:eLogCM, logTC:eLogTC, linCM:eLinCM, linTC:eLinTC, colors:null},
 {g:[702,903,475,329], x:[-0.8,1.3,0.4,false], yl:[20,3], yr:[-9.44,1.77], ygap:29,
  logCM:fLogCM, logTC:fLogTC, linCM:fLinCM, linTC:fLinTC, colors:null}
];
panels.forEach(p=>{
  const gi = addGrid(...p.g);
  const xi = addX(gi,p.x[0],p.x[1],p.x[2],'{i|V}{s|gs}{n| [V]}',32,p.x[3]);
  const yl = addYL(gi,p.yl[0],p.yl[1],fmt0,p.ygap);
  const yr = addYR(gi,p.yr[0],p.yr[1]);
  const col = k => p.colors ? p.colors[k] : BLUE;
  p.logCM.forEach((d,k)=>line(xi,yr,d,col(k),'cm'));
  p.linCM.forEach((d,k)=>line(xi,yl,d,col(k),'sym'));
  p.logTC.forEach(d=>line(xi,yr,d,'#111','tc'));
  p.linTC.forEach(d=>line(xi,yl,d,'#111','tc'));
});

// --- output panels g, h
{
  const gi = addGrid(62,1350,476,299);
  const xi = addX(gi,0,1.2,0.2,'{i|V}{s|ds}{n| [V]}',27,true);
  const yi = addYL(gi,1.5,0.3,fmt1,36);
  gCM.forEach(r=>line(xi,yi,gVds.map((x,i)=>[x,r[i]]),BLUE,'cm'));
  gTC.forEach(r=>line(xi,yi,gVds.map((x,i)=>[x,r[i]]),'#111','tc'));
}
{
  const gi = addGrid(706,1350,477,299);
  const xi = addX(gi,0,0.8,0.2,'{i|V}{s|ds}{n| [V]}',27,true);
  const yi = addYL(gi,12,3,fmt0,37);
  hCM.forEach(r=>line(xi,yi,hVds.map((x,i)=>[x,r[i]]),BLUE,'cm'));
  hTC.forEach(r=>line(xi,yi,hVds.map((x,i)=>[x,r[i]]),'#111','tc'));
}

// --- annotations
// (a)
legend(214,7,394,58,BLUE,20,OL);
box(220,66,365,112,['{i|V}{s|ds}{n| = 0.1...0.7 V,}','{n|Step = 0.2 V}'],[78,101],19);
arrow(126.5,336,259,133); arrow(445,336,335,133);
ell(422,80,10,42); arrow(424,38,449,38);
ell(453,293,10,42); arrow(453,251,426,251);
// (b)
legend(851,7,1032,58,'#111',20,OL);
box(904,72,1051,117,['{n|Mat. Source:}','{n|Ge, SiGe, Si, GaAs}'],[83,106],19);
box(722,128,834,152,[VDS07],[140],19);
arrow(942,135,784,335); arrow(1032,135,1150,334);
ell(742,53,10,28); arrow(743,25,769,25);
ell(742,248,10,42); arrow(742,206,717,206);
// (c)
legend(214,455,394,506,BLUE,20,OL);
box(233,518,358,565,['{i|l}{s|ch}{n| = 22, 32,}','{n|45, 65 nm}'],[530,553],19);
box(96,575,207,599,[VDS07],[587],19);
arrow(126.5,784,259,583); arrow(439,784,335,587);
ell(126,492,10,27); arrow(126.5,465,152,465);
ell(446,742,10,42); arrow(443,700,419.6,700);
// (d)
legend(851,455,1032,506,BLUE,20,OL);
box(870,514,996,561,['{i|t}{s|ch}{n| = 8, 10,}','{n|12, 15 nm}'],[526,550],19);
box(732,583,844,608,[VDS07],[595],19);
arrow(762,784,895,577); arrow(1076,784,973,577);
ell(762,497,10,28); arrow(763,469,789,469);
ell(1084,742,10,42); arrow(1084,700,1059,700);
// (e)
legend(214,903,394,954,BLUE,20,OL);
box(233,966,358,1013,['{i|t}{s|ox}{n| = 1.5,}','{n|2.0, 2.5 nm}'],[978,1001],19);
box(96,1034,207,1059,[VDS07],[1047],19);
arrow(126.5,1232,259,1025); arrow(439,1232,335,1025);
ell(126,947,10,28); arrow(126.5,919,152,919);
ell(446,1190,10,42); arrow(443,1148,419.6,1148);
// (f)
legend(851,903,1032,954,BLUE,20,OL);
box(896,963,1022,1010,['{i|ε}{s|ox}{n| = 15, 22}','{n|26, 30, 80 · }{i|ε}{s|0}'],[975,999],19);
box(743,1078,855,1102,[VDS07],[1090],19);
arrow(783,1232,921,1018); arrow(1112.5,1232,999.5,1018);
ell(747,955,10,42); arrow(748,913,774.6,913);
ell(1136,1190,10,40); arrow(1136,1150,1110.5,1150);
// (g)
legend(62,1351,225,1398,BLUE,18,[9,25,14,32,33]);
box(77.5,1428,215.5,1471,['{i|V}{s|gs}{n| = 0.9...1.4 V,}','{n|Step = 0.05 V}'],[1439,1461],17);
arrow(259,1649,143,1492);
// (h)
legend(706,1350,869,1397,BLUE,18,[9,25,14,32,33]);
box(766.5,1457,912.5,1500,['{i|V}{s|gs}{n| = -1.2...-0.4 V,}','{n|Step = 0.05 V}'],[1468,1490],17);
arrow(885,1549,1003,1667);

// --- captions
text(320,423,'{n|(a) Transfer curve: Various }{i|V}{s|ds}{n|.}',21);
text(959,423,'{n|(b) Transfer curve: Various source materials.}',21);
text(320,873,'{n|(c) Transfer curve: Various }{i|l}{s|ch}{n|.}',21);
text(959,873,'{n|(d) Transfer curve: Various }{i|t}{s|ch}{n|.}',21);
text(320,1322,'{n|(e) Transfer curve: Various }{i|t}{s|ox}{n|.}',21);
text(959,1322,'{n|(f) Transfer curve: Various }{i|ε}{s|ox}{n|.}',21);
text(304,1732,'{n|(g) Output curve: Various }{i|V}{s|gs}{n| > 0, }{sc|ON}{n|-state.}',21);
text(960,1732,'{n|(h) Output curve: Various }{i|V}{s|gs}{n| < 0, }{sc|AMBIPOLAR}{n|-state.}',21);

const chart = echarts.init(document.getElementById('c'),null,{renderer:'canvas'});
chart.setOption(option);
</script></body></html>
